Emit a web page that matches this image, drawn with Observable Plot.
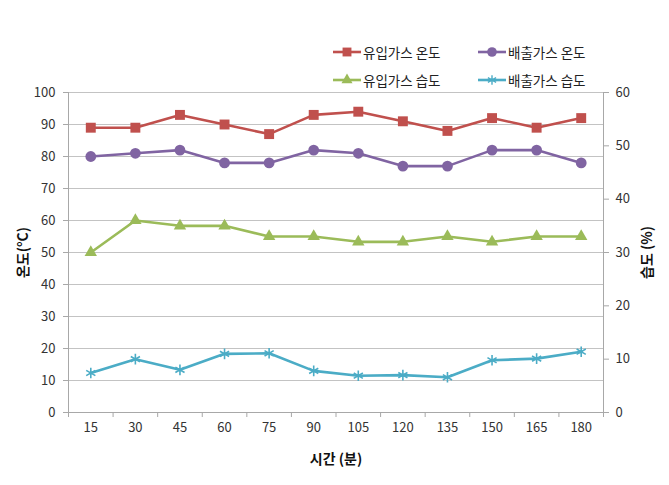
<!DOCTYPE html>
<html><head><meta charset="utf-8">
<script src="https://cdn.jsdelivr.net/npm/d3@7"></script>
<script src="https://cdn.jsdelivr.net/npm/@observablehq/plot@0.6"></script>
<style>
body{margin:0;background:#fff;}
#wrap{position:relative;width:669px;height:485px;font-family:'Noto Sans CJK KR',sans-serif;}
.leg{position:absolute;display:flex;align-items:center;font-size:13.5px;color:#222;white-space:nowrap;}
.leg svg{margin-right:2px;}
</style>
</head><body><div id="wrap"></div>
<script>
const times = [15, 30, 45, 60, 75, 90, 105, 120, 135, 150, 165, 180];
const inletTemp = [89, 89, 93, 90, 87, 93, 94, 91, 88, 92, 89, 92];
const outletTemp = [80, 81, 82, 78, 78, 82, 81, 77, 77, 82, 82, 78];
const inletHum = [30, 36, 35, 35, 33, 33, 32, 32, 33, 32, 33, 33];
const outletHum = [7.4, 10, 8, 11, 11.1, 7.8, 6.9, 7, 6.6, 9.8, 10.1, 11.4];
const tempTicks = [0, 10, 20, 30, 40, 50, 60, 70, 80, 90, 100];
const humTicks = [0, 10, 20, 30, 40, 50, 60];
const seriesNames = ["유입가스 온도", "배출가스 온도", "유입가스 습도", "배출가스 습도"];
const seriesColors = ["#C0504D", "#8064A2", "#9BBB59", "#4BACC6"];
const seriesSymbols = ["square", "circle", "triangle", "asterisk"];

const toLeft = h => h * 100 / 60;
const seriesValues = [inletTemp, outletTemp, inletHum.map(toLeft), outletHum.map(toLeft)];
const step = times[1] - times[0];
const xDomain = [times[0] - step / 2, times[times.length - 1] + step / 2];
const boundaries = d3.range(times.length + 1).map(i => xDomain[0] + i * step);

const marks = [
  Plot.gridY(tempTicks, {stroke: "#c3c3c3", strokeOpacity: 1, strokeWidth: 1}),
  Plot.ruleX([xDomain[0], xDomain[1]], {stroke: "#a8a8a8"}),
  Plot.ruleY([0], {stroke: "#a8a8a8"}),
  Plot.axisY(tempTicks, {anchor: "left", tickSize: 5, tickPadding: 8, stroke: "#a8a8a8", fill: "#333", fontSize: 13, label: null}),
  Plot.axisY(humTicks.map(toLeft), {anchor: "right", tickSize: 5, tickPadding: 7, stroke: "#a8a8a8", fill: "#333", fontSize: 13, tickFormat: d => Math.round(d * 0.6), label: null}),
  Plot.axisX(boundaries, {anchor: "bottom", tickSize: 5, stroke: "#a8a8a8", tickFormat: () => "", label: null}),
  Plot.axisX(times, {anchor: "bottom", tickSize: 0, tickPadding: 10, fill: "#333", fontSize: 13, label: null}),
  Plot.text(["시간 (분)"], {frameAnchor: "bottom", dy: 51, textAnchor: "middle", fontWeight: "bold", fontSize: 14, fill: "#111"}),
  Plot.text(["온도(°C)"], {x: () => xDomain[0], y: () => 50, dx: -45, textAnchor: "middle", rotate: -90, fontWeight: "bold", fontSize: 14, fill: "#111"}),
  Plot.text(["습도 (%)"], {x: () => xDomain[1], y: () => 50, dx: 44, textAnchor: "middle", rotate: -90, fontWeight: "bold", fontSize: 14, fill: "#111"})
];

const rs = [5.6, 5.4, 4.6, 5];
seriesValues.forEach((vals, i) => {
  const rows = times.map((t, j) => ({t, v: vals[j]}));
  marks.push(Plot.line(rows, {x: "t", y: "v", stroke: seriesColors[i], strokeWidth: 2.6}));
  if (seriesSymbols[i] === "asterisk") {
    marks.push(Plot.dot(rows, {x: "t", y: "v", symbol: "asterisk", r: rs[i], stroke: seriesColors[i], strokeWidth: 1.6}));
  } else {
    marks.push(Plot.dot(rows, {x: "t", y: "v", symbol: seriesSymbols[i], r: rs[i], fill: seriesColors[i], stroke: "none"}));
  }
});

const chart = Plot.plot({
  width: 669,
  height: 485,
  marginLeft: 68,
  marginRight: 66,
  marginTop: 92,
  marginBottom: 73,
  style: {fontFamily: "'Noto Sans CJK KR', sans-serif", fontSize: "13px", background: "#fff"},
  x: {type: "linear", domain: xDomain},
  y: {type: "linear", domain: [0, 100]},
  marks
});
const wrap = document.getElementById("wrap");
wrap.appendChild(chart);

// legend
seriesNames.forEach((name, i) => {
  const col = i % 2, row = Math.floor(i / 2);
  const div = document.createElement("div");
  div.className = "leg";
  div.style.left = (333 + col * 145) + "px";
  div.style.top = (42 + row * 28) + "px";
  const svg = d3.create("svg").attr("width", 28).attr("height", 18);
  svg.append("line").attr("x1", 0).attr("x2", 28).attr("y1", 9).attr("y2", 9)
    .attr("stroke", seriesColors[i]).attr("stroke-width", 2.6);
  const symMap = {square: d3.symbolSquare, circle: d3.symbolCircle, triangle: d3.symbolTriangle, asterisk: d3.symbolAsterisk};
  const p = svg.append("path").attr("transform", "translate(14,9)")
    .attr("d", d3.symbol(symMap[seriesSymbols[i]], Math.PI * rs[i] * rs[i] * 0.8)());
  if (seriesSymbols[i] === "asterisk") p.attr("fill", "none").attr("stroke", seriesColors[i]).attr("stroke-width", 1.4);
  else p.attr("fill", seriesColors[i]);
  div.appendChild(svg.node());
  const span = document.createElement("span");
  span.textContent = name;
  div.appendChild(span);
  wrap.appendChild(div);
});
</script>
</body></html>
